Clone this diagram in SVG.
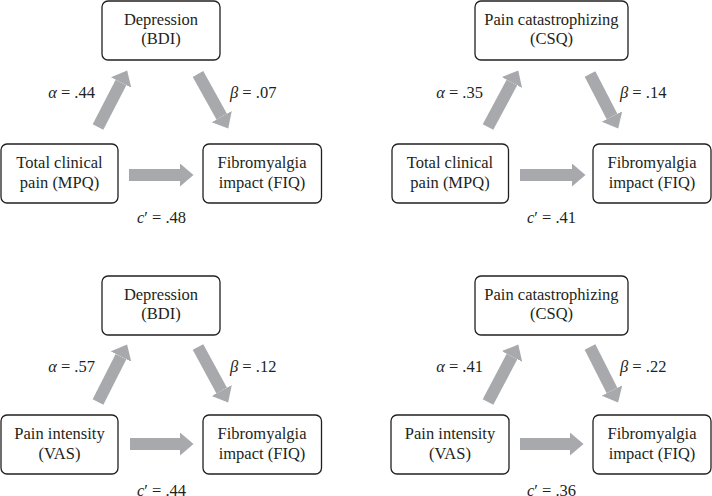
<svg xmlns="http://www.w3.org/2000/svg" width="712" height="496" viewBox="0 0 712 496" font-family="'Liberation Serif', 'DejaVu Serif', serif">
<style>
.box{fill:#fff;stroke:#231f20;stroke-width:1.3}
text{font-family:'Liberation Serif','DejaVu Serif',serif;font-size:16.5px;fill:#231f20}
.c{text-anchor:middle}
.r{text-anchor:end}
.i{font-style:italic}
.arr{stroke:#a7a9ac;stroke-width:12;fill:none;stroke-linecap:butt}
</style>
<defs>
<marker id="ah" markerUnits="userSpaceOnUse" markerWidth="14" markerHeight="24" refX="0" refY="11.5" orient="auto">
<path d="M0,0 L13.5,11.5 L0,23 z" fill="#a7a9ac"/>
</marker>
</defs>
<rect width="712" height="496" fill="#fff"/>

<g id="connectors">
<line class="arr" x1="98" y1="127" x2="121" y2="82.5" marker-end="url(#ah)"/>
<line class="arr" x1="198" y1="74" x2="221.7" y2="116.6" marker-end="url(#ah)"/>
<line class="arr" x1="129" y1="175" x2="180" y2="175" marker-end="url(#ah)"/>

<line class="arr" x1="488" y1="127" x2="511.9" y2="82.5" marker-end="url(#ah)"/>
<line class="arr" x1="590" y1="74" x2="612" y2="116.5" marker-end="url(#ah)"/>
<line class="arr" x1="520" y1="175" x2="572" y2="175" marker-end="url(#ah)"/>

<line class="arr" x1="98" y1="402" x2="121" y2="356.6" marker-end="url(#ah)"/>
<line class="arr" x1="198" y1="347" x2="221.7" y2="390.6" marker-end="url(#ah)"/>
<line class="arr" x1="130" y1="444" x2="180" y2="444" marker-end="url(#ah)"/>

<line class="arr" x1="488" y1="402" x2="512" y2="356.5" marker-end="url(#ah)"/>
<line class="arr" x1="590" y1="347" x2="612" y2="390.5" marker-end="url(#ah)"/>
<line class="arr" x1="520" y1="444" x2="570" y2="444" marker-end="url(#ah)"/>
</g>

<g id="labels">
<text x="95" y="98" class="r"><tspan class="i">α</tspan> = .44</text>
<text x="230" y="98"><tspan class="i">β</tspan> = .07</text>
<text x="137" y="223"><tspan class="i">c</tspan>′ = .48</text>

<text x="483" y="98" class="r"><tspan class="i">α</tspan> = .35</text>
<text x="620" y="98"><tspan class="i">β</tspan> = .14</text>
<text x="527" y="223"><tspan class="i">c</tspan>′ = .41</text>

<text x="95" y="372" class="r"><tspan class="i">α</tspan> = .57</text>
<text x="230" y="372"><tspan class="i">β</tspan> = .12</text>
<text x="137" y="496"><tspan class="i">c</tspan>′ = .44</text>

<text x="483" y="372" class="r"><tspan class="i">α</tspan> = .41</text>
<text x="620" y="372"><tspan class="i">β</tspan> = .22</text>
<text x="527" y="496"><tspan class="i">c</tspan>′ = .36</text>
</g>

<g id="p1-depression">
<rect class="box" x="102" y="1" width="118" height="59" rx="6"/>
<text class="c" x="161" y="25">Depression</text>
<text class="c" x="161" y="44">(BDI)</text>
</g>
<g id="p1-pain">
<rect class="box" x="1" y="144" width="117" height="59" rx="6"/>
<text class="c" x="59.5" y="168">Total clinical</text>
<text class="c" x="59.5" y="188">pain (MPQ)</text>
</g>
<g id="p1-fiq">
<rect class="box" x="203" y="144" width="118.5" height="59" rx="6"/>
<text class="c" x="262" y="168">Fibromyalgia</text>
<text class="c" x="262" y="188">impact (FIQ)</text>
</g>

<g id="p2-catastrophizing">
<rect class="box" x="475" y="1" width="153" height="59" rx="6"/>
<text class="c" x="551.5" y="25">Pain catastrophizing</text>
<text class="c" x="551.5" y="44">(CSQ)</text>
</g>
<g id="p2-pain">
<rect class="box" x="392" y="144" width="116.5" height="59" rx="6"/>
<text class="c" x="450" y="168">Total clinical</text>
<text class="c" x="450" y="188">pain (MPQ)</text>
</g>
<g id="p2-fiq">
<rect class="box" x="593" y="144" width="118" height="59" rx="6"/>
<text class="c" x="652" y="168">Fibromyalgia</text>
<text class="c" x="652" y="188">impact (FIQ)</text>
</g>

<g id="p3-depression">
<rect class="box" x="102" y="276" width="118" height="59" rx="6"/>
<text class="c" x="161" y="300">Depression</text>
<text class="c" x="161" y="319">(BDI)</text>
</g>
<g id="p3-pain">
<rect class="box" x="1" y="415" width="117" height="59" rx="6"/>
<text class="c" x="59.5" y="439">Pain intensity</text>
<text class="c" x="59.5" y="459">(VAS)</text>
</g>
<g id="p3-fiq">
<rect class="box" x="203" y="415" width="118.5" height="59" rx="6"/>
<text class="c" x="262" y="439">Fibromyalgia</text>
<text class="c" x="262" y="459">impact (FIQ)</text>
</g>

<g id="p4-catastrophizing">
<rect class="box" x="475" y="276" width="153" height="59" rx="6"/>
<text class="c" x="551.5" y="300">Pain catastrophizing</text>
<text class="c" x="551.5" y="319">(CSQ)</text>
</g>
<g id="p4-pain">
<rect class="box" x="391" y="415" width="118" height="59" rx="6"/>
<text class="c" x="450" y="439">Pain intensity</text>
<text class="c" x="450" y="459">(VAS)</text>
</g>
<g id="p4-fiq">
<rect class="box" x="593" y="415" width="118" height="59" rx="6"/>
<text class="c" x="652" y="439">Fibromyalgia</text>
<text class="c" x="652" y="459">impact (FIQ)</text>
</g>
</svg>
